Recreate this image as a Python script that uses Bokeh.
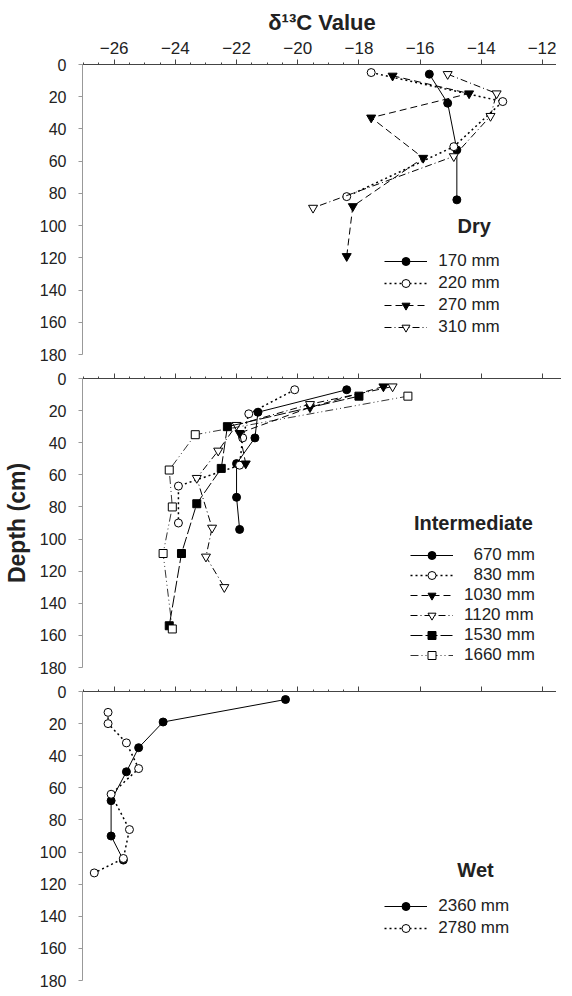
from bokeh.plotting import figure
from bokeh.models import (Range1d, FixedTicker, Legend, LegendItem, Label,
                          ColumnDataSource)
from bokeh.layouts import column
from bokeh.embed import file_html
from bokeh.resources import INLINE

# ---------------- data ----------------
x_ticks = [-26, -24, -22, -20, -18, -16, -14, -12]
depth_ticks = [0, 20, 40, 60, 80, 100, 120, 140, 160, 180]

# Dry sites
dry_170_x = [-15.7, -15.1, -14.8, -14.8]
dry_170_d = [6, 24, 53, 84]
dry_220_x = [-17.6, -13.3, -14.9, -18.4]
dry_220_d = [5, 23, 51, 82]
dry_270_x = [-16.9, -14.4, -17.6, -15.9, -18.2, -18.4]
dry_270_d = [7, 18, 33, 58, 88, 119]
dry_310_x = [-15.1, -13.5, -13.7, -14.9, -19.5]
dry_310_d = [6, 18, 32, 57, 89]

# Intermediate sites
int_670_x = [-18.4, -21.3, -21.4, -22.0, -22.0, -21.9]
int_670_d = [7, 21, 37, 53, 74, 94]
int_830_x = [-20.1, -21.6, -21.8, -21.9, -23.9, -23.9]
int_830_d = [7, 22, 37, 54, 67, 90]
int_1030_x = [-17.2, -19.6, -21.9, -21.7]
int_1030_d = [5, 18, 34, 53]
int_1120_x = [-16.9, -19.6, -22.0, -22.6, -23.3, -22.8, -23.0, -22.4]
int_1120_d = [5, 16, 29, 45, 62, 93, 111, 130]
int_1530_x = [-18.0, -22.3, -22.5, -23.3, -23.8, -24.2]
int_1530_d = [11, 30, 56, 78, 109, 154]
int_1660_x = [-16.4, -23.35, -24.2, -24.1, -24.4, -24.1]
int_1660_d = [11, 35, 57, 80, 109, 156]

# Wet sites
wet_2360_x = [-20.4, -24.4, -25.2, -25.6, -26.1, -26.1, -25.7]
wet_2360_d = [5, 19, 35, 50, 68, 90, 105]
wet_2780_x = [-26.2, -26.2, -25.6, -25.2, -26.1, -25.5, -25.7, -26.65]
wet_2780_d = [13, 20, 32, 48, 64, 86, 104, 113]

# ---------------- styling ----------------
FONT = "Liberation Sans"
X_START, X_END = -27.035, -11.38
FRAME_W = 479
LEFT = 77


def make_panel(frame_h, top_border, bottom_border, show_x_labels):
    p = figure(frame_width=FRAME_W, frame_height=frame_h,
               x_range=Range1d(X_START, X_END), y_range=Range1d(180, 0),
               x_axis_location="above", y_axis_location="left",
               output_backend="svg", toolbar_location=None,
               min_border_left=LEFT, min_border_right=0,
               min_border_top=top_border, min_border_bottom=bottom_border,
               background_fill_color="white", border_fill_color="white")
    p.outline_line_color = None
    p.grid.visible = False

    xa = p.xaxis[0]
    minor = [x_ticks[0] - 1.0 + 0.5 * i for i in range(2 * (len(x_ticks) + 1) + 1)]
    xa.ticker = FixedTicker(ticks=x_ticks, minor_ticks=minor)
    xa.axis_line_color = "#444444"
    xa.major_tick_line_color = "#444444"
    xa.minor_tick_line_color = "#444444"
    xa.major_tick_out = 5
    xa.major_tick_in = 0
    xa.minor_tick_out = 2
    xa.minor_tick_in = 0
    if show_x_labels:
        xa.major_label_text_font = FONT
        xa.major_label_text_font_size = "17px"
        xa.major_label_text_color = "#222222"
        xa.major_label_standoff = 6
    else:
        xa.major_label_text_color = None
        xa.major_label_text_font_size = "1px"
        xa.major_label_standoff = 0

    ya = p.yaxis[0]
    ya.ticker = FixedTicker(ticks=depth_ticks, minor_ticks=[])
    ya.axis_line_color = "#999999"
    ya.major_tick_line_color = "#999999"
    ya.major_tick_out = 4
    ya.major_tick_in = 0
    ya.minor_tick_out = 0
    ya.major_label_text_font = FONT
    ya.major_label_text_font_size = "16px"
    ya.major_label_text_color = "#222222"
    ya.major_label_standoff = 12
    return p


def draw(p, xs, ds, marker, filled, dash, size=8, width=1.0):
    src = ColumnDataSource(dict(x=xs, d=ds))
    rl = p.line("x", "d", source=src, line_color="black", line_width=width,
                line_dash=dash)
    rp = p.scatter("x", "d", source=src, marker=marker, size=size,
                   line_color="black", line_width=1,
                   fill_color="black" if filled else "white")
    return [rl, rp]


def add_legend(p, entries, y_bottom, spacing=2):
    items = [LegendItem(label=lab, renderers=rs) for lab, rs in entries]
    leg = Legend(items=items, location=(328, y_bottom), orientation="vertical",
                 glyph_width=43, glyph_height=20, label_height=20,
                 label_standoff=11, spacing=spacing, padding=0, margin=0,
                 border_line_color=None, background_fill_alpha=0,
                 label_text_font=FONT, label_text_font_size="17px",
                 label_text_color="#222222")
    p.add_layout(leg, "center")


def add_group_title(p, text, x, y):
    p.add_layout(Label(x=x, y=y, text=text, text_align="center",
                       text_baseline="middle", text_font=FONT,
                       text_font_size="20px", text_font_style="bold",
                       text_color="#222222"))


DOT = "2 3"
DASH = "7 4"
DASHDOT = "7 3 1 3"
LONGDASH = "12 3"
DASHDOTDOT = "8 3 1 3 1 3"

# ---------------- panel 1 : Dry ----------------
p1 = make_panel(290, 64, 12, True)
p1.xaxis[0].axis_label = "\u03b4\u00b9\u00b3C Value"
p1.xaxis[0].axis_label_text_font = FONT
p1.xaxis[0].axis_label_text_font_size = "22px"
p1.xaxis[0].axis_label_text_font_style = "bold"
p1.xaxis[0].axis_label_text_color = "#222222"
p1.xaxis[0].axis_label_standoff = 4

r170 = draw(p1, dry_170_x, dry_170_d, "circle", True, "solid")
r220 = draw(p1, dry_220_x, dry_220_d, "circle", False, DOT, width=1.5)
r270 = draw(p1, dry_270_x, dry_270_d, "inverted_triangle", True, DASH, size=9)
r310 = draw(p1, dry_310_x, dry_310_d, "inverted_triangle", False, DASHDOT, size=9)
add_group_title(p1, "Dry", -14.23, 100)
add_legend(p1, [("170 mm", r170), ("220 mm", r220),
                ("270 mm", r270), ("310 mm", r310)], 17)

# ---------------- panel 2 : Intermediate ----------------
p2 = make_panel(289, 12, 12, False)
ya2 = p2.yaxis[0]
ya2.axis_label = "Depth (cm)"
ya2.axis_label_text_font = FONT
ya2.axis_label_text_font_size = "23px"
ya2.axis_label_text_font_style = "bold"
ya2.axis_label_text_color = "#222222"
ya2.axis_label_standoff = 7

r670 = draw(p2, int_670_x, int_670_d, "circle", True, "solid")
r830 = draw(p2, int_830_x, int_830_d, "circle", False, DOT, width=1.5)
r1030 = draw(p2, int_1030_x, int_1030_d, "inverted_triangle", True, DASH, size=9)
r1120 = draw(p2, int_1120_x, int_1120_d, "inverted_triangle", False, DASHDOT, size=9)
r1530 = draw(p2, int_1530_x, int_1530_d, "square", True, LONGDASH)
r1660 = draw(p2, int_1660_x, int_1660_d, "square", False, DASHDOTDOT, width=0.8)
add_group_title(p2, "Intermediate", -14.26, 90)
add_legend(p2, [("\u2007670 mm", r670), ("\u2007830 mm", r830),
                ("1030 mm", r1030), ("1120 mm", r1120),
                ("1530 mm", r1530), ("1660 mm", r1660)], 2, spacing=0)

# ---------------- panel 3 : Wet ----------------
p3 = make_panel(289, 12, 8, False)
r2360 = draw(p3, wet_2360_x, wet_2360_d, "circle", True, "solid")
r2780 = draw(p3, wet_2780_x, wet_2780_d, "circle", False, DOT, width=1.5)
add_group_title(p3, "Wet", -14.19, 111)
add_legend(p3, [("2360 mm", r2360), ("2780 mm", r2780)], 42)

layout = column(p1, p2, p3, spacing=0, margin=(0, 0, -8, 0))
open("out.html", "w").write(file_html(layout, INLINE))
